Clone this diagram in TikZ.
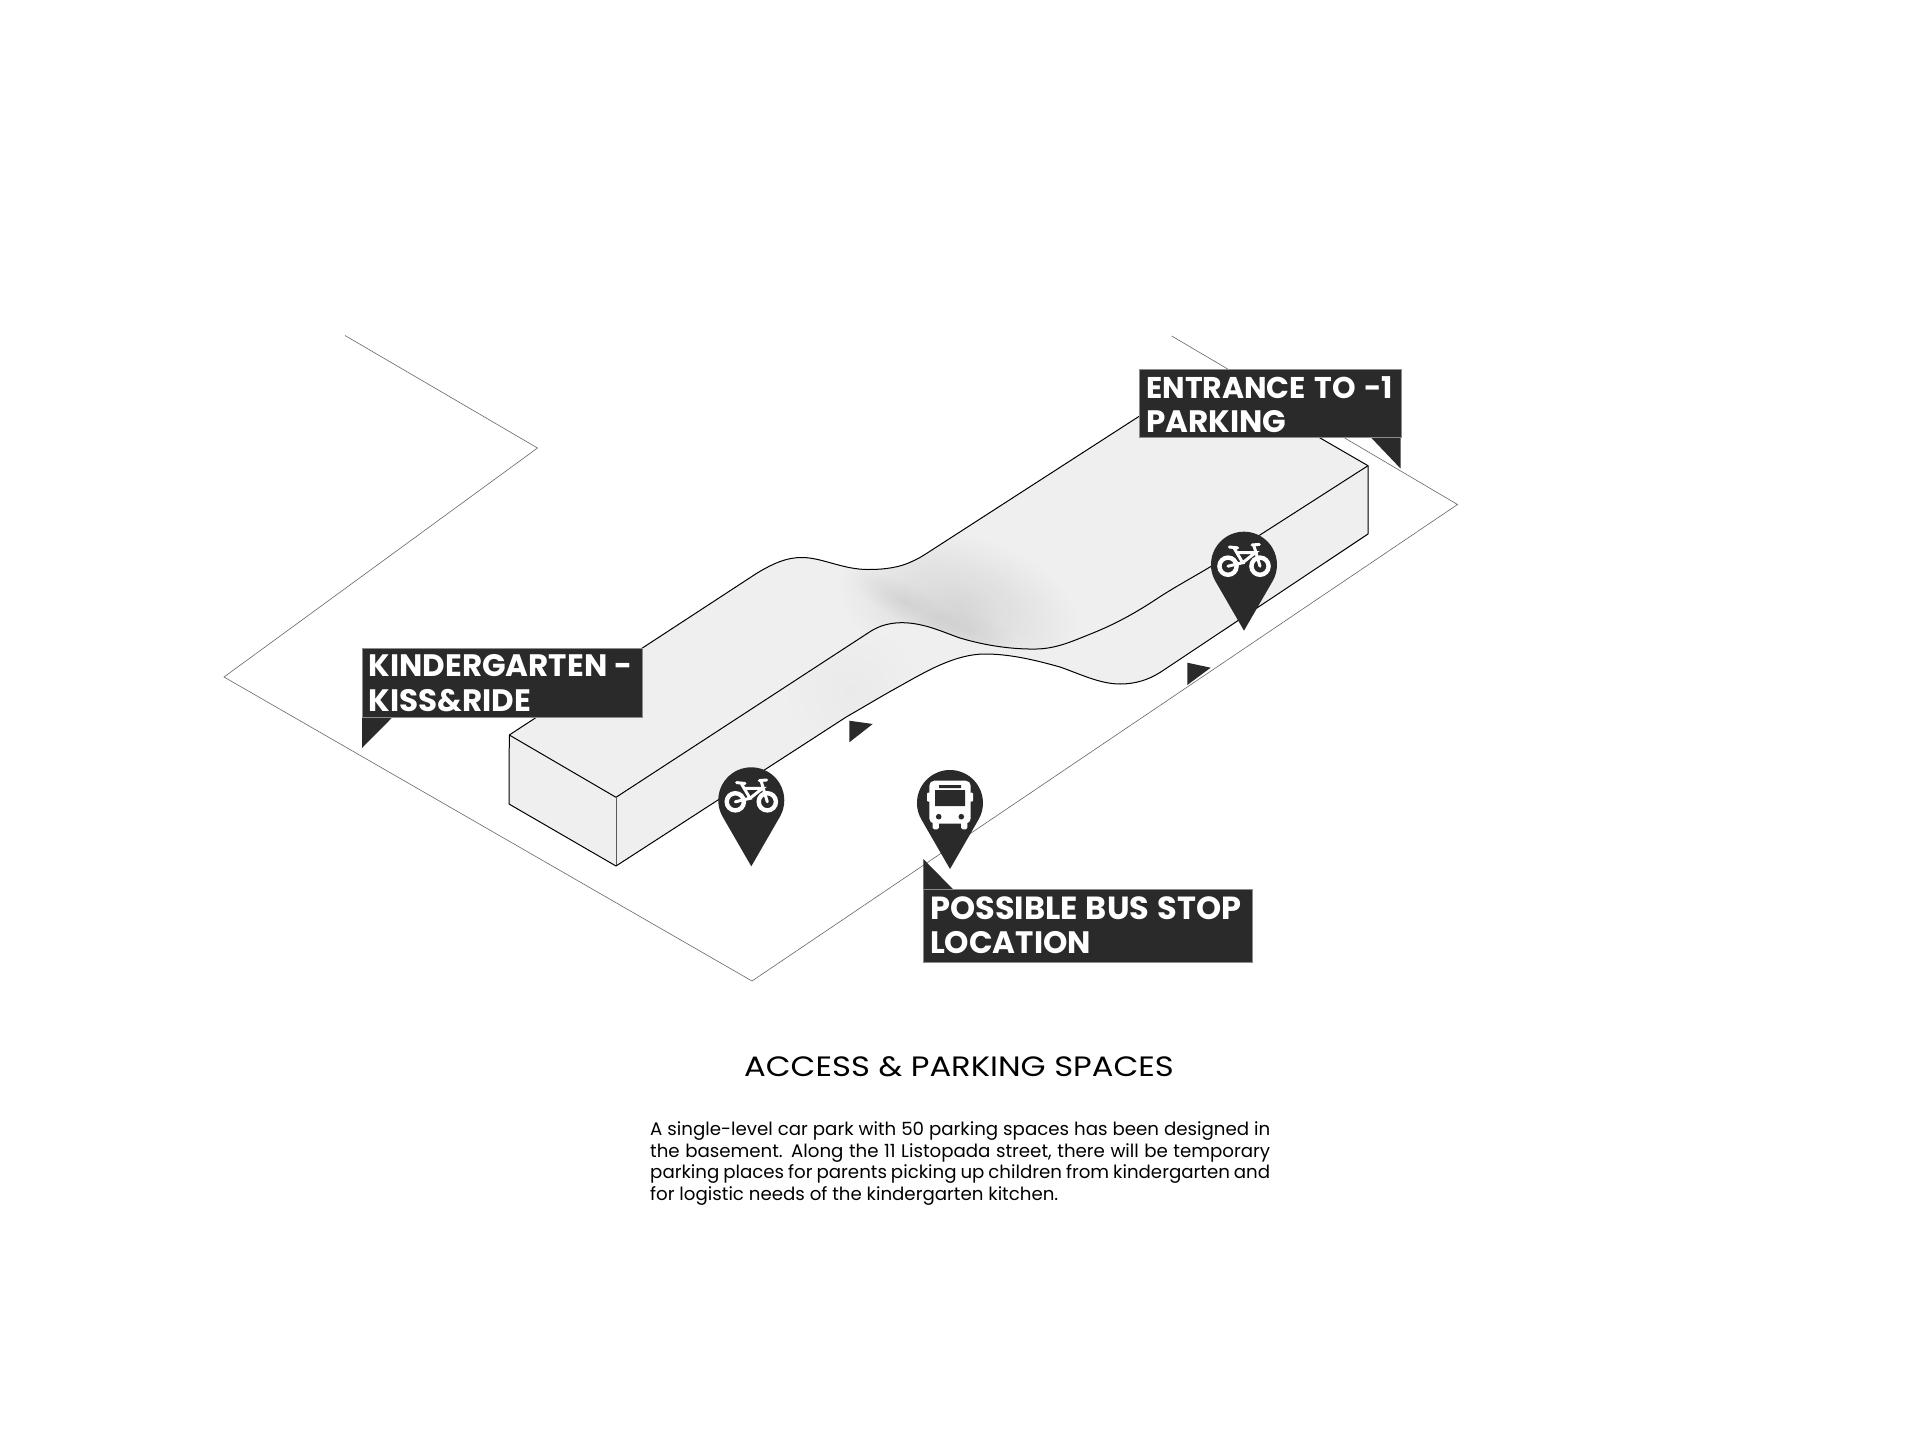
\documentclass[tikz,border=0pt]{standalone}
\usepackage{fontspec}
\setmainfont{Poppins}
\newfontfamily\widefont[FakeStretch=1.15]{Poppins}
\usetikzlibrary{calc,fadings}
\definecolor{ink}{HTML}{2A2A2A}
\definecolor{roof}{HTML}{EFEFEF}
\tikzfading[name=softspot,inner color=transparent!0,outer color=transparent!100]
\tikzset{
  x=1pt,y=-1pt,
  siteline/.style={draw=black!60,line width=0.6pt,line join=miter},
  edgeline/.style={draw=black,line width=1pt,line join=round},
  tagbox/.style={fill=ink,draw=black!45,line width=0.5pt,text=white,anchor=north west,inner sep=0pt,align=left},
  tagtext/.style={text=white,anchor=west,inner sep=0pt,font=\fontsize{31}{34}\selectfont\bfseries},
  tailmark/.style={fill=ink},
  pinbody/.style={fill=ink},
  whiteline/.style={draw=white,line width=3pt,line cap=round},
  spot/.style={fill=black,fill opacity=#1,path fading=softspot,fit fading=true},
  bikemark/.pic={
    \fill[pinbody] (0,66) -- (-28.6,16.5) arc[start angle=210,end angle=-30,radius=33pt] -- cycle;
    \draw[white,line width=4.4pt] (-16,1.5) circle[radius=8.6pt] (16,1.5) circle[radius=8.6pt];
    \draw[whiteline] (-16,1.5) -- (-1.3,-2) -- (-9.7,-16.3);
    \draw[whiteline] (-7.3,-12) -- (11.3,-12) -- (-1.3,-2);
    \draw[whiteline] (9.7,-19.7) -- (16,1.5);
    \draw[whiteline] (-14.7,-17.7) -- (-6.3,-16.8);
    \draw[whiteline] (8,-19.7) -- (15.3,-20.3);
  },
  busmark/.pic={
    \fill[pinbody] (0,66) -- (-28.6,16.5) arc[start angle=210,end angle=-30,radius=33pt] -- cycle;
    \fill[white,rounded corners=5pt] (-20.7,-22.3) rectangle (20.7,20.5);
    \fill[white,rounded corners=1.5pt] (-17.3,15) rectangle (-11.2,26.3) (11.2,15) rectangle (17.3,26.3);
    \fill[white,rounded corners=1pt] (-23,-10.3) rectangle (-19,-1.3) (19,-10.3) rectangle (23,-1.3);
    \fill[ink] (-15,-13) rectangle (15,3) (-11,-18) rectangle (11,-15);
    \fill[ink] (-11.3,13.7) circle[radius=2.8pt] (11.3,13.7) circle[radius=2.8pt];
  }
}
\begin{document}
\begin{tikzpicture}
\useasboundingbox (0,0) rectangle (1920,1440);
\fill[white] (0,0) rectangle (1920,1440);
% site outline
\coordinate (s1) at (345,335.5);
\coordinate (s2) at (537.5,448);
\coordinate (s3) at (224,677);
\coordinate (s4) at (752,981);
\coordinate (s5) at (1457.5,504.5);
\coordinate (s6) at (1171.7,336);
\draw[siteline] (s1) -- (s2) -- (s3) -- (s4) -- (s5) -- (s6);
% corner coordinates
\coordinate (tl) at (509.3,735);
\coordinate (bl) at (509,804);
\coordinate (tf) at (616,797.3);
\coordinate (bf) at (616,866);
\coordinate (tr) at (1368,465.7);
\coordinate (br) at (1368,534);
\coordinate (tb) at (1207,372.5);
\def\backedge{(tl) -- (756.7,573.3) .. controls (772,564) and (787,557) .. (803,557.5) .. controls (823,558) and (843,569.5) .. (868,569.5) .. controls (885,569.5) and (900,567.5) .. (913,561) .. controls (922,557) and (930,551) .. (937,546.7) -- (tb)}
\def\midedge{(tf) -- (870,631.7) .. controls (880,625) and (892,622.5) .. (903,622.7) .. controls (925,623) and (945,633) .. (960,638) .. controls (985,645.5) and (1012,649.5) .. (1036.7,649) .. controls (1058,648.5) and (1075,640) .. (1093,633) .. controls (1120,622) and (1140,610) .. (1160,596.7) .. controls (1175,587) and (1195,576) .. (1210,567) -- (tr)}
\def\lowedge{(bf) -- (846.7,716.7) .. controls (862,708) and (880,697) .. (900,686) .. controls (925,672) and (955,654) .. (985,654) .. controls (1010,654) and (1035,660) .. (1060,667) .. controls (1080,674) and (1100,684) .. (1120,684) .. controls (1135,684) and (1148,680) .. (1160,672.5) -- (br)}
% faces
\fill[roof] \backedge -- (tr) -- (tf) -- (tl) -- cycle;
\fill[roof] (tl) -- (tf) -- (bf) -- (bl) -- cycle;
\fill[roof] \lowedge -- (tr) -- (tf) -- cycle;
% saddle shading on the roof
\begin{scope}
  \clip \backedge -- (tr) -- (1210,567) .. controls (1195,576) and (1175,587) .. (1160,596.7) .. controls (1140,610) and (1120,622) .. (1093,633) .. controls (1075,640) and (1058,648.5) .. (1036.7,649) .. controls (1012,649.5) and (985,645.5) .. (960,638) .. controls (945,633) and (925,623) .. (903,622.7) .. controls (892,622.5) and (880,625) .. (870,631.7) -- (tf) -- cycle;
  \begin{scope}[transform canvas={shift={(958,606)},rotate=-15}]
    \path[spot=0.10] (0,0) ellipse[x radius=125pt,y radius=72pt];
  \end{scope}
  \begin{scope}[transform canvas={shift={(905,602)},rotate=-27}]
    \path[spot=0.06] (0,0) ellipse[x radius=62pt,y radius=19pt];
  \end{scope}
  \begin{scope}[transform canvas={shift={(965,630)},rotate=-15}]
    \path[spot=0.05] (0,0) ellipse[x radius=50pt,y radius=20pt];
  \end{scope}
\end{scope}
% faint shading on the long side
\begin{scope}
  \clip \lowedge -- (tr) -- (1210,567) .. controls (1195,576) and (1175,587) .. (1160,596.7) .. controls (1140,610) and (1120,622) .. (1093,633) .. controls (1075,640) and (1058,648.5) .. (1036.7,649) .. controls (1012,649.5) and (985,645.5) .. (960,638) .. controls (945,633) and (925,623) .. (903,622.7) .. controls (892,622.5) and (880,625) .. (870,631.7) -- (tf) -- cycle;
  \path[spot=0.018] (850,690) ellipse[x radius=70pt,y radius=70pt];
\end{scope}
% edges
\draw[edgeline] \backedge;
\draw[edgeline] (tb) -- (tr) -- (br);
\draw[edgeline] (tl) -- (tf);
\draw[edgeline] \midedge;
\draw[edgeline] (tl) -- (bl) -- (bf);
\draw[edgeline,draw=black!65] (tf) -- (bf);
\draw[edgeline] \lowedge;
% small triangles
\fill[ink] (849.3,720.7) -- (872.7,724) -- (849.3,742.3) -- cycle;
\fill[ink] (1187.3,662.7) -- (1210.7,667.7) -- (1187.3,685) -- cycle;
% pins
\pic at (751.3,800.3) {bikemark};
\pic at (950,803) {busmark};
\pic at (1244,564.7) {bikemark};
% kindergarten tag
\fill[tailmark] (362,716.7) -- (362,748) -- (393,716.7) -- cycle;
\node[tagbox,minimum width=279.5pt,minimum height=69pt] (kiss) at (362,647.7) {};
\node[tagtext] (kissa) at (368.5,665.5) {\makebox[264pt][s]{KINDERGARTEN -}};
\node[tagtext] (kissb) at (368.5,701) {KISS\&RIDE};
% entrance tag
\fill[tailmark] (1400.7,437) -- (1400.7,468.7) -- (1370.5,437) -- cycle;
\node[tagbox,minimum width=261.5pt,minimum height=68pt] (entry) at (1139.3,369.3) {};
\node[tagtext,font=\fontsize{30}{34}\selectfont\bfseries] (entrya) at (1146,387.5) {\makebox[247pt][s]{ENTRANCE TO -1}};
\node[tagtext] (entryb) at (1146,422) {PARKING};
% bus tag
\fill[tailmark] (923.3,889.5) -- (923.3,859) -- (953.3,889.5) -- cycle;
\node[tagbox,minimum width=328.5pt,minimum height=73pt] (stop) at (923.3,889.3) {};
\node[tagtext,font=\fontsize{32}{34}\selectfont\bfseries] (stopa) at (930,908.5) {\makebox[311pt][s]{POSSIBLE BUS STOP}};
\node[tagtext] (stopb) at (930,943) {LOCATION};
% captions
\node[text=black,inner sep=0pt,font=\fontsize{28}{32}\selectfont\widefont] (title) at (959,1067) {ACCESS \& PARKING SPACES};
\node[text=black,inner sep=0pt,anchor=north west,align=left,font=\fontsize{18.2}{21.6}\selectfont] (body) at (650,1121.5) {%
\makebox[620pt][s]{A single-level car park with 50 parking spaces has been designed in}\\
\makebox[620pt][s]{the basement. Along the 11 Listopada street, there will be temporary}\\
\makebox[620pt][s]{parking places for parents picking up children from kindergarten and}\\
for logistic needs of the kindergarten kitchen.};
\end{tikzpicture}
\end{document}
